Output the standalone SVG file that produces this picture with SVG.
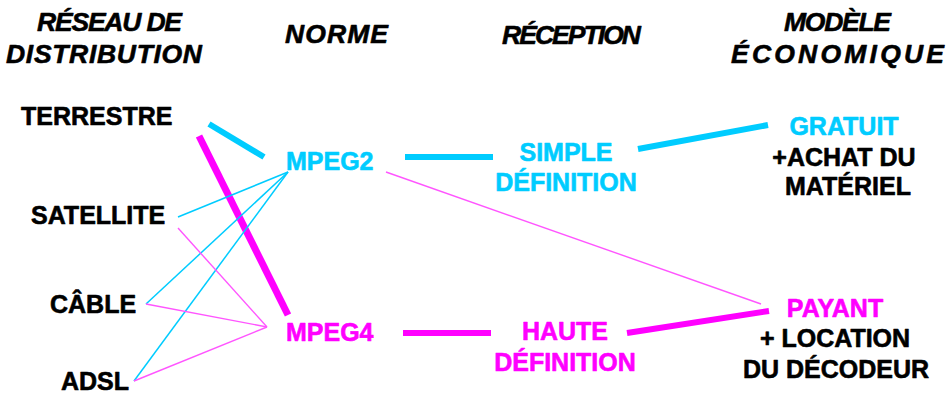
<svg xmlns="http://www.w3.org/2000/svg" width="948" height="394" viewBox="0 0 948 394">
<style>
text{font-family:"Liberation Sans",Arial,sans-serif;font-weight:bold;font-size:25px;stroke-width:0.6;stroke-linejoin:round}
.h{font-style:italic;font-size:26.5px}
.k{fill:#000;stroke:#000}
.c{fill:#00CCFF;stroke:#00CCFF}
.m{fill:#FF00FF;stroke:#FF00FF}
.mid{text-anchor:middle}
.lc{stroke:#00CCFF;fill:none}
.lm{stroke:#FF00FF;fill:none}
.thick{stroke-width:6}
.thin{stroke-width:1.5}
.lm.thin{stroke:#FF55FF;stroke-width:1.4}
</style>
<rect width="948" height="394" fill="#fff"/>
<g id="headers">
<text class="h k" x="37" y="31" textLength="145" lengthAdjust="spacing">RÉSEAU DE</text>
<text class="h k" x="6" y="63" textLength="196" lengthAdjust="spacing">DISTRIBUTION</text>
<text class="h k" x="285" y="43" textLength="103" lengthAdjust="spacing">NORME</text>
<text class="h k" x="502" y="44" textLength="139" lengthAdjust="spacing">RÉCEPTION</text>
<text class="h k" x="784" y="31" textLength="107" lengthAdjust="spacing">MODÈLE</text>
<text class="h k" x="731" y="63" textLength="213" lengthAdjust="spacing">ÉCONOMIQUE</text>
</g>
<g id="connectors">
<line class="lc thick" x1="209" y1="124" x2="264" y2="157"/>
<line class="lm" stroke-width="7" x1="199" y1="136" x2="288" y2="315"/>
<line class="lc thin" x1="178" y1="217" x2="288" y2="172"/>
<line class="lc thin" x1="146" y1="304" x2="288" y2="172"/>
<line class="lc thin" x1="134" y1="381" x2="288" y2="172"/>
<line class="lm thin" x1="178" y1="228" x2="267" y2="327"/>
<line class="lm thin" x1="146" y1="304" x2="267" y2="327"/>
<line class="lm thin" x1="134" y1="381" x2="267" y2="327"/>
<line class="lc thick" x1="405" y1="157" x2="493" y2="157"/>
<line class="lm thick" x1="403" y1="333" x2="491" y2="333"/>
<line class="lm thin" x1="386" y1="172" x2="761" y2="304"/>
<line class="lc thick" x1="638" y1="149" x2="768" y2="125"/>
<line class="lm thick" x1="627" y1="333" x2="769" y2="311"/>
</g>
<g id="terrestre"><text class="k" x="21" y="125">TERRESTRE</text></g>
<g id="satellite"><text class="k" x="31" y="224">SATELLITE</text></g>
<g id="cable"><text class="k" x="50" y="313">CÂBLE</text></g>
<g id="adsl"><text class="k" x="61" y="390">ADSL</text></g>
<g id="mpeg2"><text class="c" x="286" y="170">MPEG2</text></g>
<g id="mpeg4"><text class="m" x="286" y="341">MPEG4</text></g>
<g id="simple-definition">
<text class="c mid" x="566" y="161">SIMPLE</text>
<text class="c mid" x="566" y="191">DÉFINITION</text>
</g>
<g id="haute-definition">
<text class="m mid" x="565" y="340">HAUTE</text>
<text class="m mid" x="565" y="371">DÉFINITION</text>
</g>
<g id="gratuit">
<text class="c mid" x="844" y="135">GRATUIT</text>
<text class="k mid" x="844" y="166">+ACHAT DU</text>
<text class="k mid" x="848" y="195">MATÉRIEL</text>
</g>
<g id="payant">
<text class="m mid" x="835" y="317">PAYANT</text>
<text class="k mid" x="835" y="347">+ LOCATION</text>
<text class="k mid" x="836" y="378">DU DÉCODEUR</text>
</g>
</svg>
